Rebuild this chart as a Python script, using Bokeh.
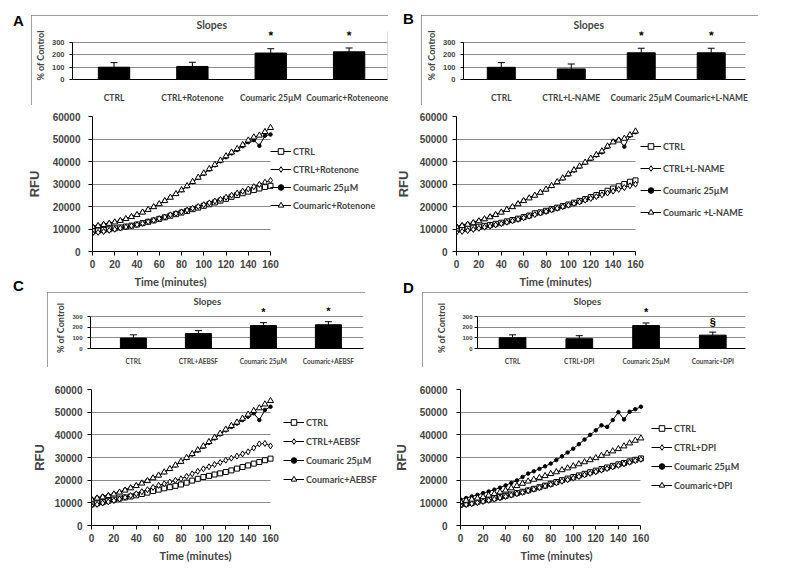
from bokeh.plotting import figure
from bokeh.models import (Range1d, FixedTicker, NumeralTickFormatter, Legend, LegendItem,
                          ColumnDataSource, Whisker, TeeHead, LabelSet, Div, Spacer, Title)
from bokeh.core.properties import value
from bokeh.layouts import row, column
from bokeh.embed import file_html
from bokeh.resources import INLINE

# ---------------- data ----------------
time_min = [0, 5, 10, 15, 20, 25, 30, 35, 40, 45, 50, 55, 60, 65, 70, 75, 80,
            85, 90, 95, 100, 105, 110, 115, 120, 125, 130, 135, 140, 145, 150, 155, 160]

# Panel A
a_labels = ["CTRL", "CTRL+Rotenone", "Coumaric 25\u00b5M", "Coumaric+Rotenone"]
a_ctrl = [9000, 9300, 9600, 9900, 10300, 10700, 11100, 11500, 12000, 12600, 13200, 13800, 14500, 15200, 15900, 16600, 17300,
          18000, 18800, 19500, 20300, 21000, 21800, 22600, 23400, 24300, 25100, 25900, 26600, 27300, 28000, 28700, 29200]
a_ctrl_x = [8100, 8500, 8900, 9400, 9900, 10400, 10900, 11400, 11900, 12500, 13200, 13900, 14600, 15300, 16300, 16900, 17600,
            18400, 19200, 20000, 20800, 21600, 22400, 23200, 24100, 25000, 25900, 26800, 27800, 28800, 29800, 30800, 31600]
a_coum = [11200, 11600, 12100, 12600, 13100, 13800, 14600, 15500, 16400, 17500, 18600, 19900, 21200, 22600, 24100, 25600, 27200,
          29000, 30800, 32700, 34500, 36400, 38300, 40100, 41900, 43600, 45100, 46800, 48600, 49500, 47000, 51500, 52000]
a_coum_x = [11000, 11400, 11900, 12400, 13000, 13700, 14500, 15400, 16300, 17400, 18600, 19800, 21100, 22500, 24000, 25600, 27300,
            29100, 31000, 32900, 34800, 36700, 38600, 40500, 42400, 44100, 45600, 47400, 49400, 50800, 51600, 53200, 55000]
a_bar_cats = ["CTRL", "CTRL+Rotenone", "Coumaric 25\u00b5M", "Coumaric+Roteneone"]
a_bar_vals = [100, 106, 215, 225]
a_bar_err = [137, 140, 250, 256]
a_bar_marks = ["", "", "*", "*"]

# Panel B
b_labels = ["CTRL", "CTRL+L-NAME", "Coumaric 25\u00b5M", "Coumaric +L-NAME"]
b_ctrl = [9600, 9900, 10200, 10600, 11000, 11400, 11800, 12300, 12800, 13400, 14000, 14600, 15300, 16000, 17000, 17400, 18100,
          18800, 19500, 20200, 20900, 21700, 22500, 23300, 24200, 25100, 26000, 27000, 28000, 29000, 30000, 31000, 31600]
b_ctrl_x = [8500, 8900, 9300, 9800, 10300, 10800, 11300, 11800, 12400, 13000, 13600, 14300, 15000, 15700, 16400, 17100, 17800,
            18500, 19200, 19900, 20600, 21300, 22000, 22800, 23600, 24400, 25200, 26000, 26800, 27600, 28400, 29200, 29900]
b_coum = [11200, 11700, 12300, 12900, 13700, 14500, 15500, 16500, 17500, 18700, 19900, 21300, 22700, 23800, 25000, 26200, 27500,
          29100, 30800, 32500, 34200, 36000, 37700, 39400, 41200, 42700, 44100, 46500, 49000, 49800, 46600, 51500, 53000]
b_coum_x = [10900, 11400, 12000, 12700, 13500, 14400, 15300, 16300, 17400, 18600, 19800, 21100, 22500, 23700, 24900, 26200, 27600,
            29200, 30900, 32600, 34400, 36200, 37900, 39600, 41400, 43000, 44600, 46800, 48600, 49400, 50200, 51800, 53400]
b_bar_cats = ["CTRL", "CTRL+L-NAME", "Coumaric 25\u00b5M", "Coumaric+L-NAME"]
b_bar_vals = [99, 86, 217, 217]
b_bar_err = [137, 126, 254, 254]
b_bar_marks = ["", "", "*", "*"]

# Panel C
c_labels = ["CTRL", "CTRL+AEBSF", "Coumaric 25\u00b5M", "Coumaric+AEBSF"]
c_ctrl = [9300, 9800, 10300, 10900, 11400, 11900, 12400, 12800, 13300, 13900, 14500, 15200, 15800, 16400, 16900, 17500, 18100,
          18900, 19800, 20600, 21400, 21900, 22500, 23000, 23600, 24300, 25100, 25800, 26500, 27300, 28000, 28800, 29500]
c_ctrl_x = [8800, 9300, 9900, 10400, 11000, 11700, 12400, 13200, 14000, 14900, 15800, 16800, 17700, 18400, 19200, 19900, 20600,
            21700, 22800, 23900, 25000, 25900, 26900, 27800, 28800, 29700, 30600, 31600, 32500, 34200, 36000, 36200, 35100]
c_coum = [11800, 12300, 12900, 13400, 14000, 14800, 15800, 16700, 17700, 18800, 19900, 21000, 22100, 23500, 25000, 26500, 28000,
          29700, 31300, 33000, 34700, 36500, 38400, 40200, 42000, 43500, 45000, 46500, 48000, 49500, 46500, 51000, 52400]
c_coum_x = [11500, 12000, 12500, 13100, 13800, 14600, 15500, 16500, 17500, 18600, 19700, 20900, 22100, 23500, 25000, 26600, 28200,
            29900, 31600, 33300, 35000, 36900, 38800, 40600, 42400, 44000, 45500, 47200, 49000, 50600, 51800, 53500, 55000]
c_bar_cats = ["CTRL", "CTRL+AEBSF", "Coumaric 25\u00b5M", "Coumaric+AEBSF"]
c_bar_vals = [99, 142, 218, 226]
c_bar_err = [130, 170, 246, 255]
c_bar_marks = ["", "", "*", "*"]

# Panel D
d_labels = ["CTRL", "CTRL+DPI", "Coumaric 25\u00b5M", "Coumaric+DPI"]
d_ctrl = [9200, 9600, 10000, 10500, 11000, 11500, 12000, 12500, 13100, 13700, 14300, 14900, 15500, 16200, 16900, 17600, 18400,
          19200, 20000, 20700, 21400, 22100, 22800, 23500, 24200, 24900, 25600, 26300, 27000, 27600, 28300, 29000, 29600]
d_ctrl_x = [8800, 9200, 9600, 10100, 10600, 11100, 11600, 12200, 12800, 13400, 14000, 14600, 15300, 16000, 16700, 17400, 18100,
            18800, 19500, 20200, 20900, 21600, 22300, 23000, 23700, 24400, 25100, 25800, 26500, 27200, 27900, 28600, 29200]
d_coum = [11500, 12100, 12800, 13500, 14300, 15000, 15800, 16700, 17700, 18800, 19900, 21400, 22900, 23900, 25000, 26100, 27300,
          28900, 30500, 32200, 33900, 35900, 37900, 40000, 42000, 44200, 43500, 46500, 50000, 46800, 50200, 51300, 52400]
d_coum_x = [10500, 11000, 11500, 12000, 12600, 13300, 14000, 14700, 15500, 16500, 17500, 18500, 19500, 20300, 21100, 21900, 22800,
            23600, 24500, 25300, 26200, 27100, 28000, 28900, 29800, 30800, 31800, 32800, 33800, 35000, 36300, 37500, 38500]
d_bar_cats = ["CTRL", "CTRL+DPI", "Coumaric 25\u00b5M", "Coumaric+DPI"]
d_bar_vals = [102, 93, 218, 127]
d_bar_err = [130, 122, 243, 156]
d_bar_marks = ["", "", "*", "\u00a7"]

x_ticks = [0, 20, 40, 60, 80, 100, 120, 140, 160]
y_ticks = [0, 10000, 20000, 30000, 40000, 50000, 60000]
bar_y_ticks = [0, 100, 200, 300]

# ---------------- styles ----------------
ARIAL = "Liberation Sans"
CAL = "Lato"
GRID = "#8c8c8c"
MARKERS = ["square", "diamond", "circle", "triangle"]
FILLS = ["white", "white", "black", "white"]
SIZES = [5, 6, 3.5, 6]
T_MAX = 160


def bar_panel(width, height, bl, br, bt, bb, xr, cats, vals, errs, marks,
              tick_fs, ylab_fs, cat_fs, title_fs, title_off, cat_sd, ytick_sd, ylab_sd, mark_fs):
    p = figure(width=width, height=height, output_backend="svg", toolbar_location=None,
               x_range=Range1d(*xr), y_range=Range1d(0, 390),
               min_border_left=bl, min_border_right=br, min_border_top=bt, min_border_bottom=bb)
    p.outline_line_color = None
    p.background_fill_color = "white"
    p.border_fill_color = "white"
    p.styles = {"outline": "1px solid #7f7f7f", "outline-offset": "-1px"}
    pos = list(range(1, len(cats) + 1))
    src = ColumnDataSource(dict(x=pos, top=vals, err=errs, mark=marks,
                                mark_y=[e + 100 for e in errs]))
    p.vbar(x="x", top="top", width=0.4, source=src, fill_color="black", line_color="black")
    p.add_layout(Whisker(base="x", upper="err", lower="top", source=src,
                         upper_head=TeeHead(size=7, line_color="black", line_width=1),
                         lower_head=None, line_color="black", line_width=1))
    p.add_layout(LabelSet(x="x", y="mark_y", text="mark", source=src,
                          text_align=value("center"), text_baseline=value("middle"),
                          text_font_size=value(mark_fs), text_font_style=value("bold"),
                          text_font=value(ARIAL), text_color="black"))
    p.title.text = "Slopes"
    p.title.align = "left"
    p.title.offset = title_off
    p.title.text_font = CAL
    p.title.text_font_size = title_fs
    p.title.text_font_style = "bold"
    p.title.standoff = 2

    p.xaxis.ticker = FixedTicker(ticks=pos)
    p.xaxis.major_label_overrides = {i: c for i, c in zip(pos, cats)}
    p.xaxis.major_tick_line_color = None
    p.xaxis.minor_tick_line_color = None
    p.xaxis.axis_line_color = "black"
    p.xaxis.major_label_text_font = CAL
    p.xaxis.major_label_text_font_style = "bold"
    p.xaxis.major_label_text_font_size = cat_fs
    p.xaxis.major_label_standoff = cat_sd

    p.yaxis.ticker = FixedTicker(ticks=bar_y_ticks)
    p.yaxis.bounds = (0, 300)
    p.yaxis.axis_label = "% of Control"
    p.yaxis.axis_label_text_font = CAL
    p.yaxis.axis_label_text_font_style = "bold"
    p.yaxis.axis_label_text_font_size = ylab_fs
    p.yaxis.axis_label_standoff = ylab_sd
    p.yaxis.major_label_text_font = ARIAL
    p.yaxis.major_label_text_font_style = "bold"
    p.yaxis.major_label_text_font_size = tick_fs
    p.yaxis.major_label_standoff = ytick_sd
    p.yaxis.major_tick_out = 3
    p.yaxis.major_tick_in = 0
    p.yaxis.minor_tick_line_color = None
    p.yaxis.axis_line_color = "black"
    p.xgrid.grid_line_color = None
    p.ygrid.ticker = FixedTicker(ticks=bar_y_ticks)
    p.ygrid.grid_line_color = GRID
    return p


def line_panel(width, height, bl, br, bt, bb, data_px, series, labels, leg_loc, leg_spacing,
               ytick_sd, ylab_sd, xlab_off):
    frame_px = width - bl - br
    x_end = T_MAX * frame_px / data_px          # frame extends to the right to hold the legend
    p = figure(width=width, height=height, output_backend="svg", toolbar_location=None,
               x_range=Range1d(0, x_end), y_range=Range1d(0, 60000),
               min_border_left=bl, min_border_right=br, min_border_top=bt, min_border_bottom=bb)
    p.outline_line_color = None
    p.background_fill_color = "white"
    p.border_fill_color = "white"
    items = []
    for ys, lab, mk, fc, sz in zip(series, labels, MARKERS, FILLS, SIZES):
        lr = p.line(time_min, ys, line_color="black", line_width=1)
        sr = p.scatter(time_min, ys, marker=mk, size=sz, fill_color=fc,
                       line_color="black", line_width=1)
        items.append(LegendItem(label=lab, renderers=[lr, sr]))
    leg = Legend(items=items, location=leg_loc, orientation="vertical", padding=2, margin=0,
                 spacing=leg_spacing, glyph_width=21, glyph_height=14, label_height=14,
                 label_standoff=2, label_text_font=CAL, label_text_font_style="bold",
                 label_text_font_size="9px", border_line_color=None, background_fill_alpha=0)
    p.add_layout(leg)

    p.xaxis.ticker = FixedTicker(ticks=x_ticks)
    p.xaxis.bounds = (0, T_MAX)
    p.yaxis.ticker = FixedTicker(ticks=y_ticks)
    p.ygrid.ticker = FixedTicker(ticks=y_ticks)
    p.yaxis.formatter = NumeralTickFormatter(format="0")
    p.yaxis.axis_label = "RFU"
    for ax in (p.xaxis, p.yaxis):
        ax.axis_line_color = "black"
        ax.major_tick_out = 4
        ax.major_tick_in = 0
        ax.minor_tick_line_color = None
        ax.major_label_text_font = ARIAL
        ax.major_label_text_font_style = "bold"
        ax.major_label_text_font_size = "10px"
        ax.axis_label_text_font_style = "bold"
    p.xaxis.major_label_standoff = 4
    p.add_layout(Title(text="Time (minutes)", align="left", offset=xlab_off,
                       text_font=CAL, text_font_size="11px", text_font_style="bold",
                       standoff=4), "below")
    p.yaxis.major_label_standoff = ytick_sd
    p.yaxis.axis_label_standoff = ylab_sd
    p.yaxis.axis_label_text_font = ARIAL
    p.yaxis.axis_label_text_font_size = "13px"
    p.xgrid.grid_line_color = None
    p.ygrid.grid_line_color = GRID
    try:
        p.ygrid.cross_bounds = (0, T_MAX)
    except AttributeError:
        p.ygrid.grid_line_color = None
        p.segment(x0=[0] * len(y_ticks[1:]), y0=y_ticks[1:], x1=[T_MAX] * len(y_ticks[1:]),
                  y1=y_ticks[1:], line_color=GRID, line_width=1, level="underlay")
    return p


def letter_div(txt, w, h, top, left):
    return Div(text=(f'<div style="position:relative;top:{top}px;left:{left}px;'
                     f'font-family:\'Liberation Sans\';font-weight:bold;'
                     f'font-size:15px;line-height:15px;">{txt}</div>'),
               width=w, height=h, margin=(0, 0, 0, 0), styles={"overflow": "visible"})


figA_bar = bar_panel(357, 90, 37, 1, 15, 26, (0.47, 4.49), a_bar_cats, a_bar_vals, a_bar_err, a_bar_marks,
                     "7.5px", "9px", "8.5px", "10.5px", 124, 7, 5, 3, "12px")
figB_bar = bar_panel(337, 90, 42, 13, 15, 26, (0.46, 4.49), b_bar_cats, b_bar_vals, b_bar_err, b_bar_marks,
                     "7.5px", "9px", "8.5px", "10.5px", 110, 7, 5, 3, "12px")
figC_bar = bar_panel(318, 75, 43, 2, 14, 16, (0.34, 4.54), c_bar_cats, c_bar_vals, c_bar_err, c_bar_marks,
                     "6px", "9px", "6.5px", "9.5px", 103, 3, 5, 3, "11px")
figD_bar = bar_panel(326, 75, 55, 3, 14, 16, (0.475, 4.49), d_bar_cats, d_bar_vals, d_bar_err, d_bar_marks,
                     "6px", "9px", "6.5px", "9.5px", 96, 3, 2, 12, "11px")

figA_line = line_panel(382, 187, 84, 2, 11, 41, 178, [a_ctrl, a_ctrl_x, a_coum, a_coum_x], a_labels,
                       (178, 39), 4, 8, 8, 42)
figB_line = line_panel(379, 187, 66, 2, 11, 41, 179, [b_ctrl, b_ctrl_x, b_coum, b_coum_x], b_labels,
                       (184, 32), 8, 5, 6, 63)
figC_line = line_panel(382, 205, 83, 0, 22, 47, 179, [c_ctrl, c_ctrl_x, c_coum, c_coum_x], c_labels,
                       (192, 39), 5, 5, 5, 68)
figD_line = line_panel(379, 205, 69, 2, 22, 47, 181, [d_ctrl, d_ctrl_x, d_coum, d_coum_x], d_labels,
                       (191, 33), 5, 9, 8, 60)

row1 = row(letter_div("A", 23, 97, 5, 5),
           column(Spacer(width=357, height=7), figA_bar),
           letter_div("B", 33, 97, 3, 15),
           column(Spacer(width=337, height=7), figB_bar))
row2 = row(figA_line, figB_line)
row3 = row(letter_div("C", 39, 75, -14, 5), figC_bar, letter_div("D", 57, 75, -12, 38), figD_bar)
row4 = row(figC_line, figD_line)
content = column(row1, row2, row3, row4)
# page margin of 8px on the top and left
layout = column(Spacer(width=777, height=8), row(Spacer(width=8, height=564), content))

open("out.html", "w").write(file_html(layout, INLINE))
